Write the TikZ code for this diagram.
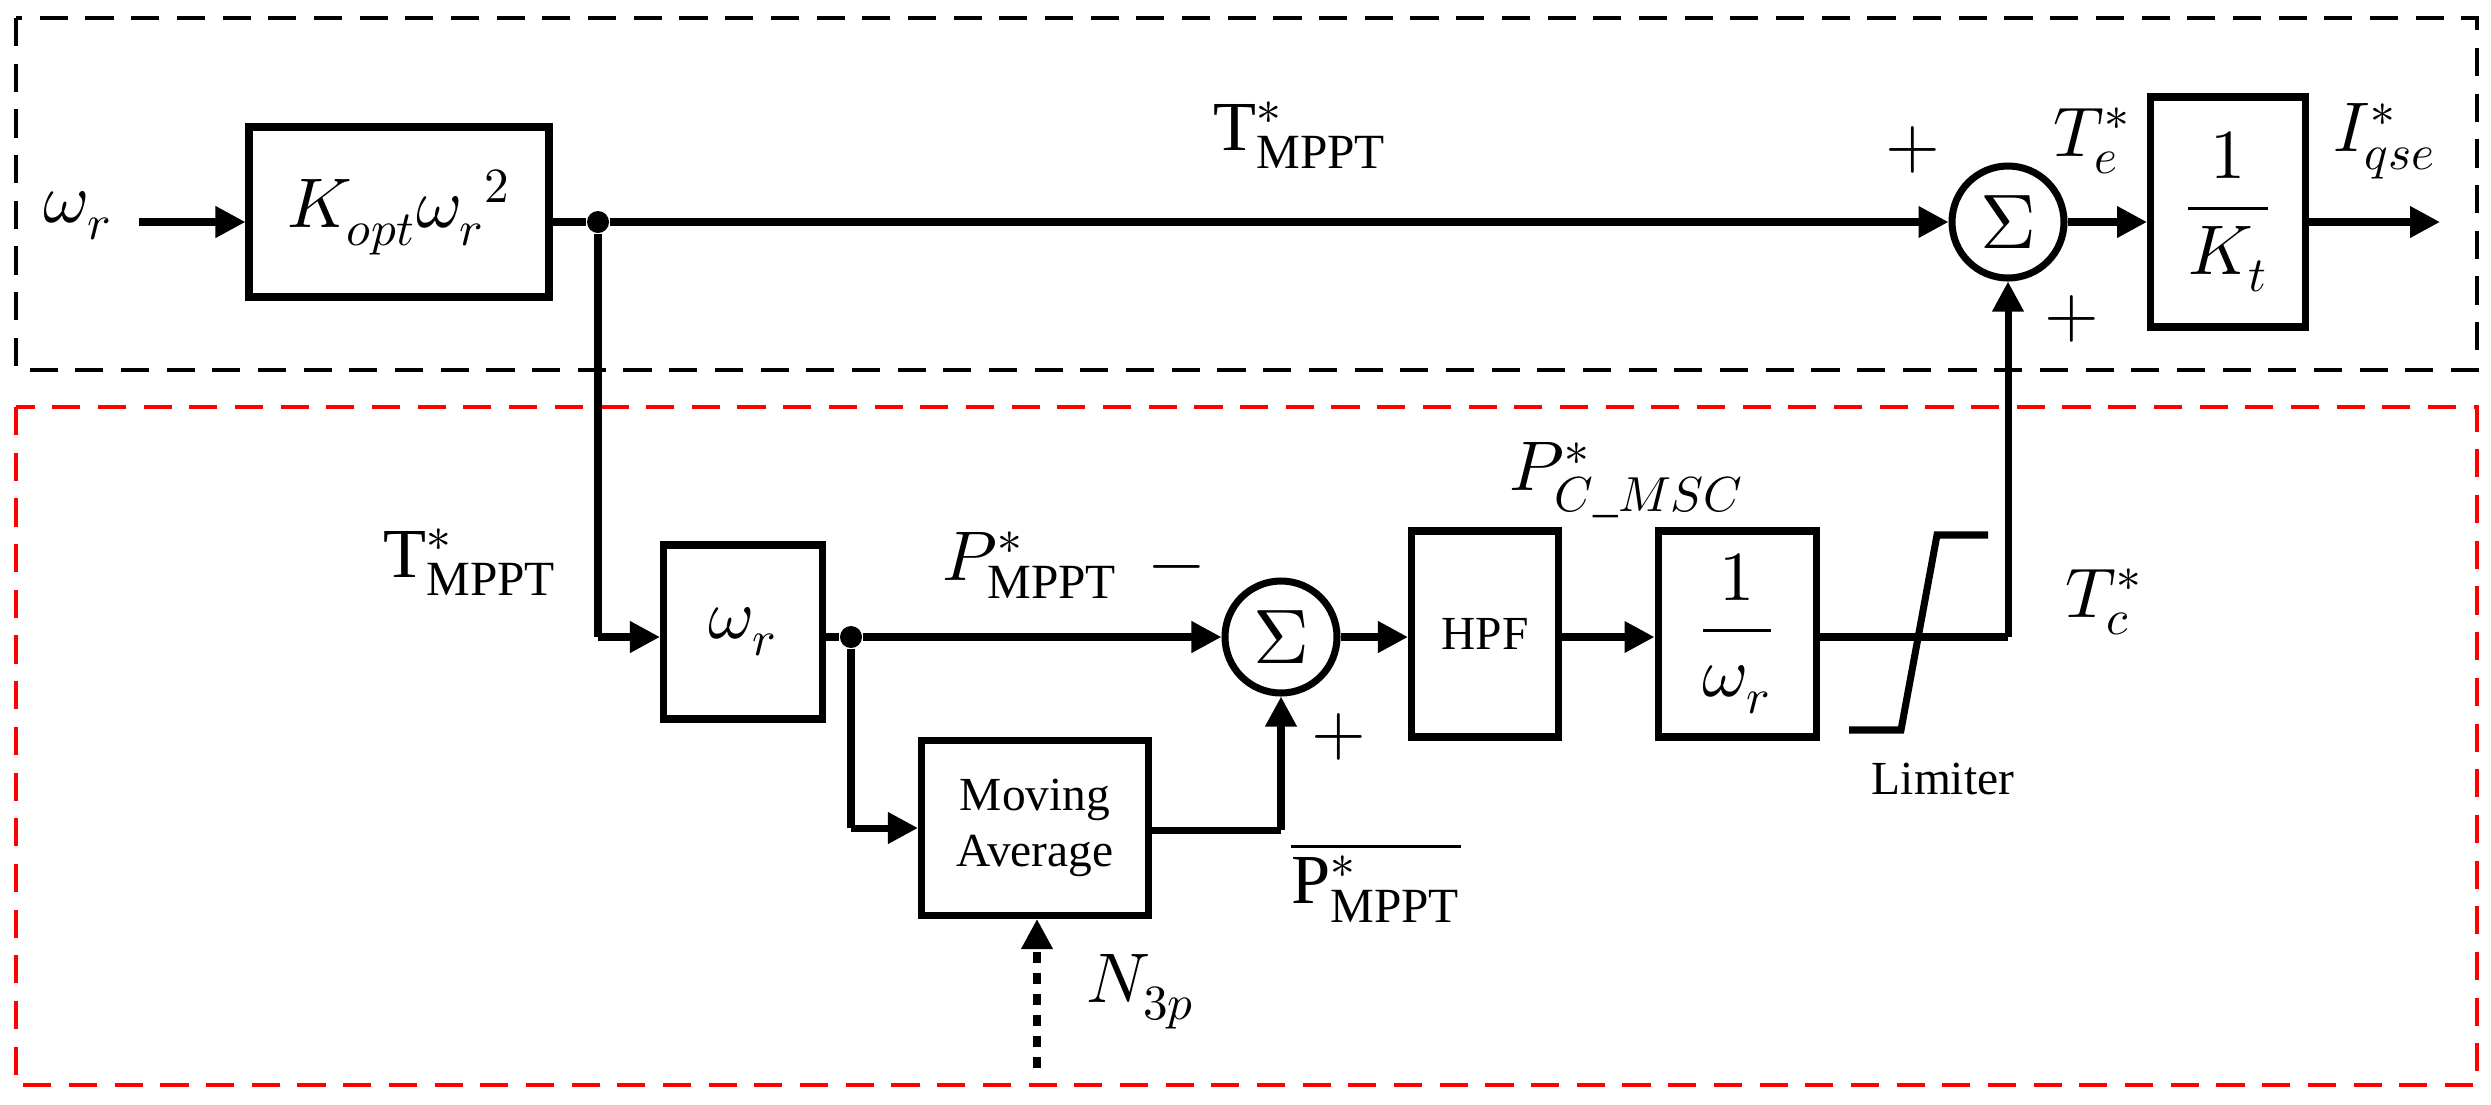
\documentclass[tikz,border=0pt]{standalone}
\usepackage{fontspec}
\setmainfont{Liberation Serif}
\usepackage{unicode-math}
\setmathfont{Latin Modern Math}
\usetikzlibrary{arrows.meta,calc}
\begin{document}
\begin{tikzpicture}[x=0.1mm,y=-0.1mm,
  blk/.style={draw,line width=2pt,minimum width=#1,inner sep=0pt},
  sumn/.style={draw,circle,line width=2pt,minimum size=1.12cm,inner sep=0pt,font=\fontsize{22}{24}\selectfont},
  con/.style={line width=2pt},
  arr/.style={line width=2pt,-{Triangle[length=0.3cm,width=0.3cm]}},
  lbl/.style={font=\fontsize{20}{24}\selectfont,inner sep=0pt},
  sml/.style={font=\fontsize{13.5}{16}\selectfont,inner sep=0pt},
  dot/.style={circle,fill,inner sep=0pt,minimum size=0.22cm}]
\useasboundingbox (0,0) rectangle (2491,1104);
\draw[dash pattern=on 8pt off 5pt,line width=1.2pt] (16,18) rectangle (2477,370);
\draw[red,dash pattern=on 8pt off 5pt,line width=1.2pt] (16,407) rectangle (2477,1085);
% nodes
\node[lbl] (win) at (78,216) {$\omega_r$};
\coordinate (wa) at (139,222);
\node[blk=3cm,minimum height=1.7cm,lbl] (kopt) at (399,212) {$K_{opt}\omega_r{}^{2}$};
\node[dot] (d1) at (598,222) {};
\node[sumn] (s1) at (2008,222) {$\Sigma$};
\node[blk=1.55cm,minimum height=2.3cm,lbl] (kt) at (2228,212) {$\dfrac{1}{K_t}$};
\coordinate (out) at (2440,222);
\coordinate (c1) at (598,637);
\node[blk=1.59cm,minimum height=1.74cm,lbl] (wr) at (743,632) {$\omega_r$};
\node[dot] (d2) at (851,637) {};
\node[sumn] (s2) at (1281,637) {$\Sigma$};
\node[blk=1.47cm,minimum height=2.06cm,sml] (hpf) at (1485,634) {HPF};
\node[blk=1.58cm,minimum height=2.06cm,lbl] (iw) at (1737,634) {$\dfrac{1}{\omega_r}$};
\node[blk=2.27cm,minimum height=1.75cm,sml,align=center] (ma) at (1035,828) {Moving\\Average};
\coordinate (c2) at (851,828);
\coordinate (c3) at (1281,830);
\coordinate (c4) at (2008,637);
\coordinate (n3) at (1037,1068);
% connectors
\draw[arr] (wa) -- (kopt.west|-wa);
\draw[con] (kopt.east|-d1) -- (d1);
\draw[arr] (d1) -- (s1);
\draw[arr] (s1) -- (kt.west|-s1);
\draw[arr] (kt.east|-out) -- (out);
\draw[con] (d1) -- (c1);
\draw[arr] (c1) -- (wr.west|-c1);
\draw[con] (wr.east|-d2) -- (d2);
\draw[arr] (d2) -- (s2);
\draw[con] (d2) -- (c2);
\draw[arr] (c2) -- (ma.west|-c2);
\draw[con] (ma.east|-c3) -- (c3);
\draw[arr] (c3) -- (s2);
\draw[arr] (s2) -- (hpf.west|-s2);
\draw[arr] (hpf.east|-s2) -- (iw.west|-s2);
\draw[con] (iw.east|-c4) -- (c4);
\draw[arr] (c4) -- (s1);
\draw[line width=2pt,dash pattern=on 3pt off 3pt,-{Triangle[length=0.3cm,width=0.3cm]}] (n3) -- (ma.south-|n3);
% limiter
\draw[line width=2pt] (1849,730) -- (1901,730) -- (1937,535) -- (1988,535);
% labels
\node[lbl] (l1) at (1300,135) {$\mathrm{T}^{*}_{\mathrm{MPPT}}$};
\node[lbl] (p1) at (1913,150) {$+$};
\node[lbl] (p2) at (2072,319) {$+$};
\node[lbl] (te) at (2092,141) {$T_e^{*}$};
\node[lbl] (iq) at (2385,141) {$I_{qse}^{*}$};
\node[lbl] (l2) at (470,562) {$\mathrm{T}^{*}_{\mathrm{MPPT}}$};
\node[lbl] (l3) at (1030,565) {$P^{*}_{\mathrm{MPPT}}$};
\node[lbl] (mn) at (1177,575) {$-$};
\node[lbl] (p3) at (1339,737) {$+$};
\node[lbl] (l4) at (1376,882) {$\overline{\mathrm{P}^{*}_{\mathrm{MPPT}}}$};
\node[lbl] (l5) at (1141,992) {$N_{3p}$};
\node[lbl] (l6) at (1627,480) {$P^{*}_{C\_MSC}$};
\node[sml] (lim) at (1943,779) {Limiter};
\node[lbl] (tc) at (2104,602) {$T_c^{*}$};
\end{tikzpicture}
\end{document}
